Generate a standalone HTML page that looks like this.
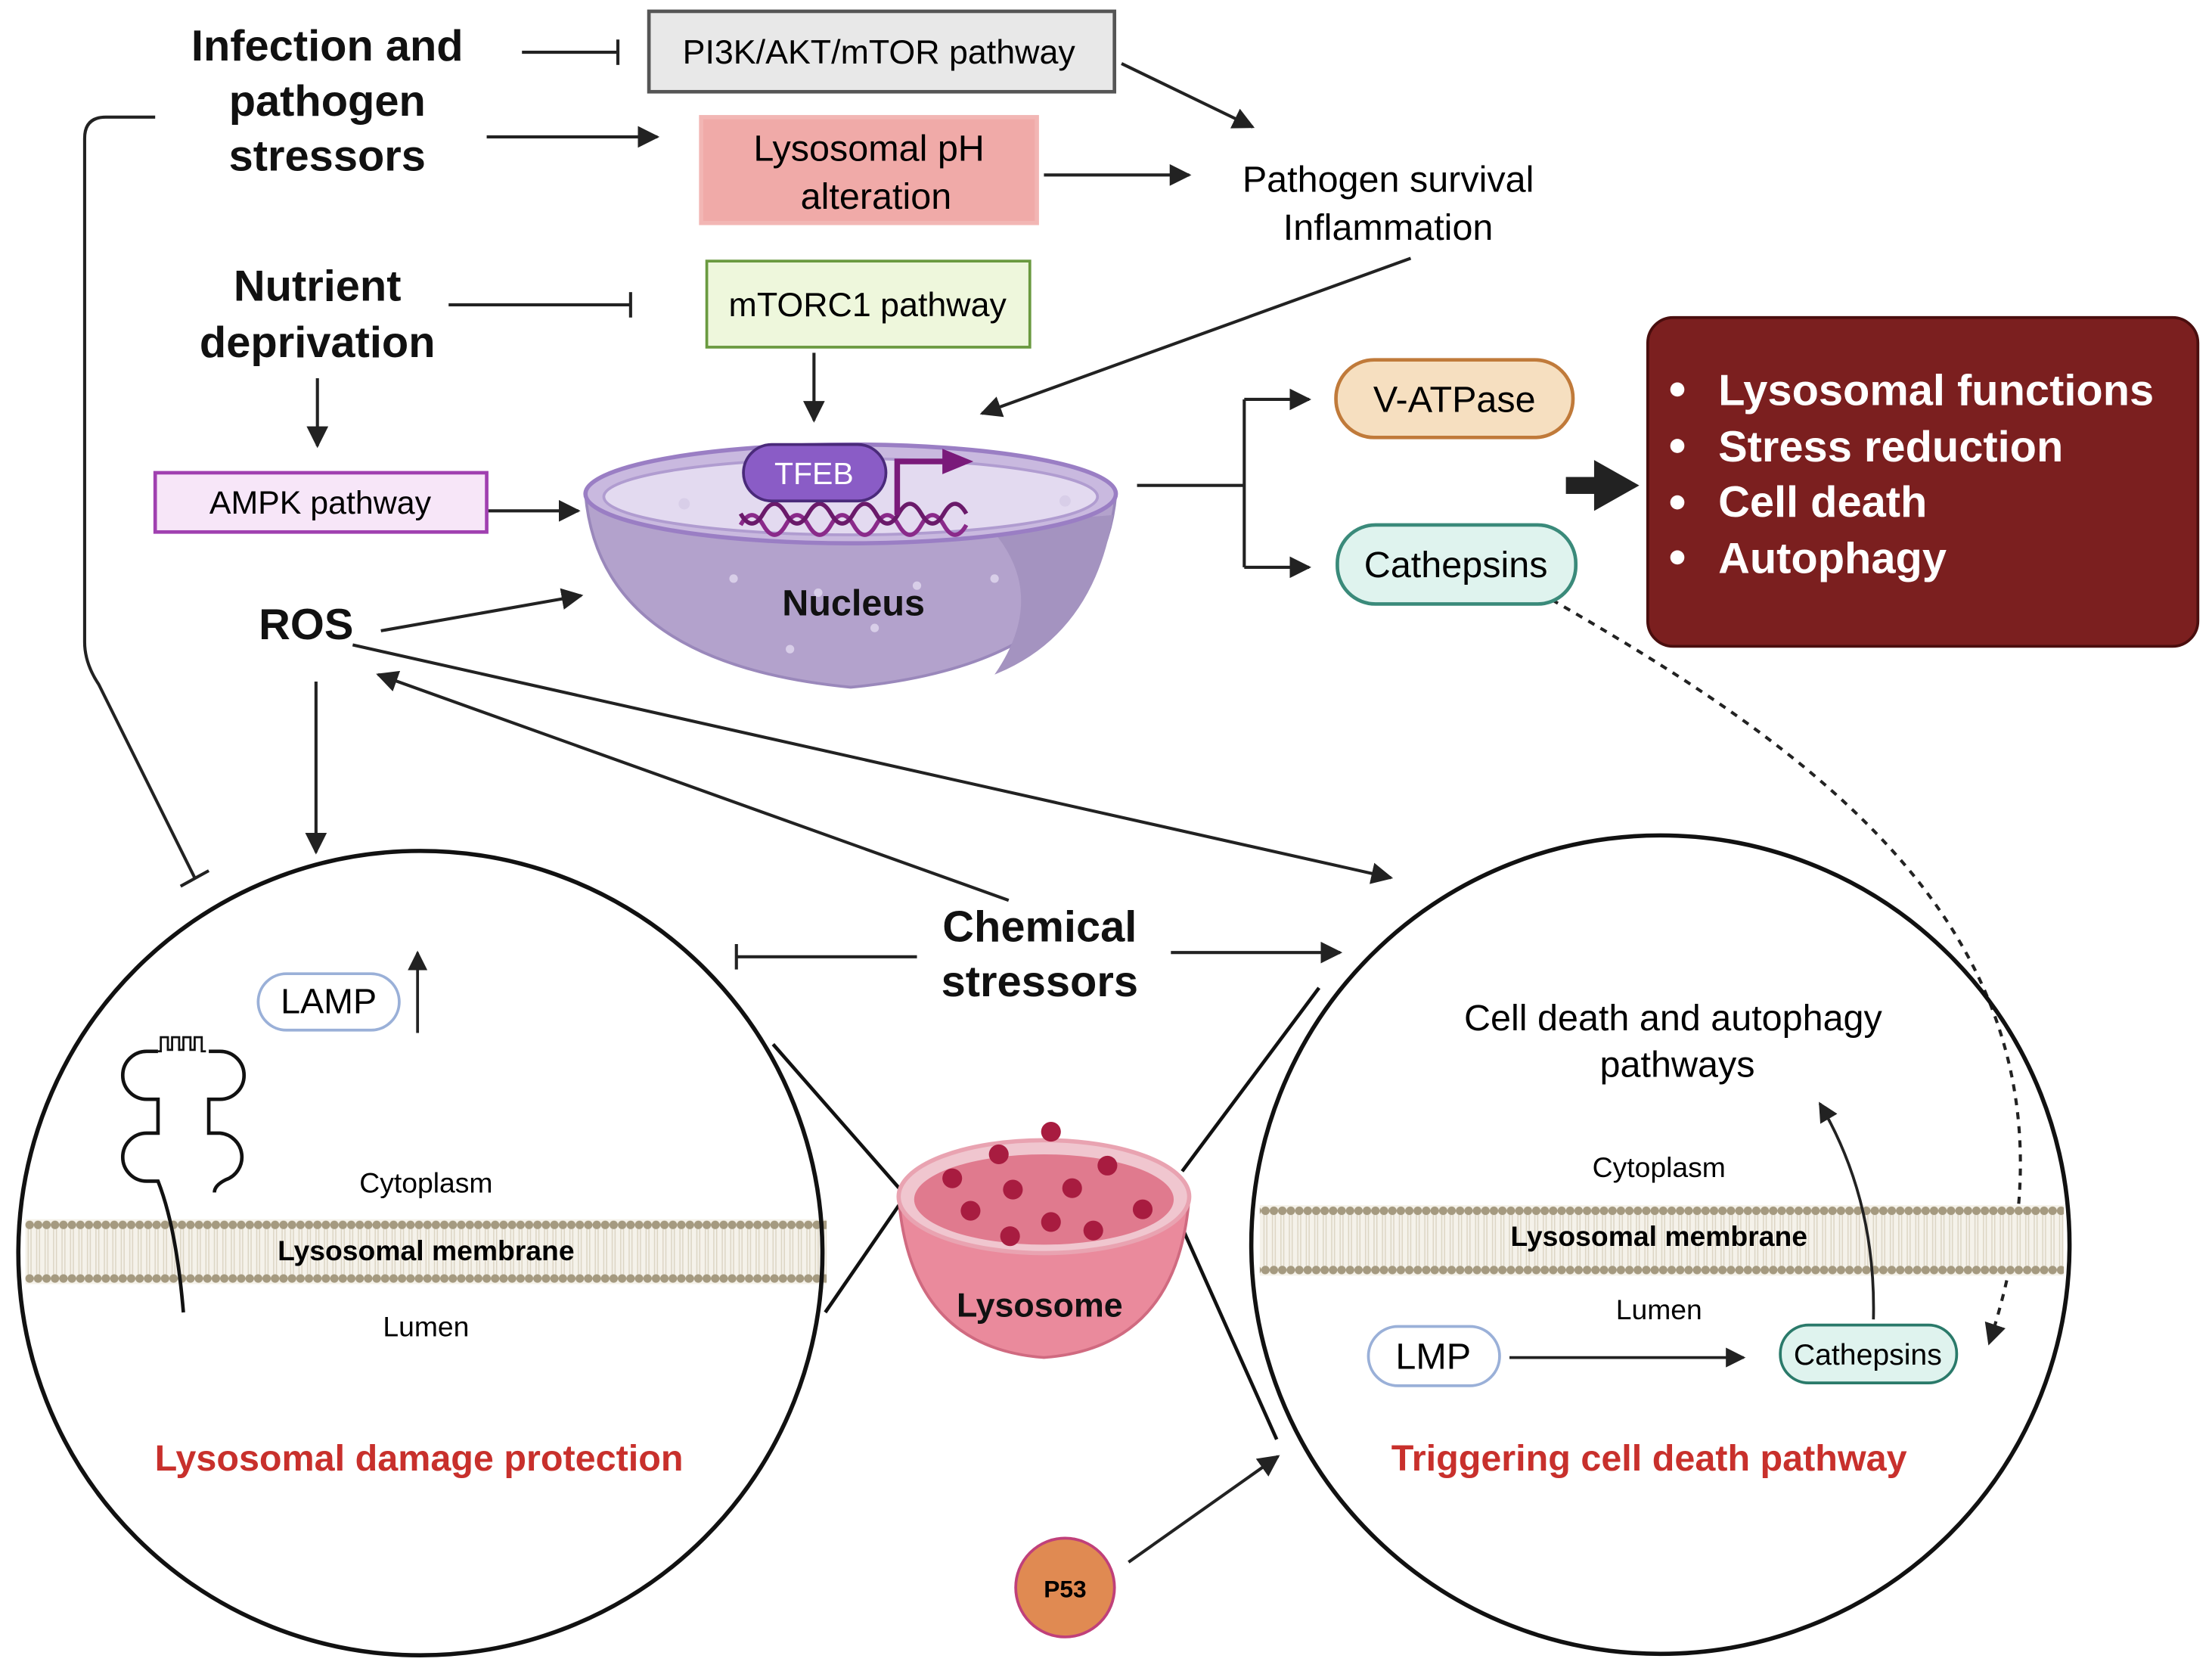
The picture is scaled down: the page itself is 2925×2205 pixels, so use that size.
<!DOCTYPE html>
<html><head><meta charset="utf-8"><style>
html,body{margin:0;padding:0;background:#fff;}
svg{display:block;}
text{font-family:"Liberation Sans",sans-serif;}
</style></head><body>
<svg width="2925" height="2205" viewBox="0 0 1568 1182" xmlns="http://www.w3.org/2000/svg">
<defs>
<marker id="ah" viewBox="0 0 10 10" refX="9" refY="5" markerWidth="7" markerHeight="7" orient="auto-start-reverse"><path d="M0,0 L10,5 L0,10 z" fill="#222"/></marker>
<pattern id="mem1" x="0" y="864" width="6" height="46" patternUnits="userSpaceOnUse">
<rect width="6" height="46" fill="#f5f2ea"/>
<circle cx="3" cy="4" r="3" fill="#a59a80"/><circle cx="3" cy="42" r="3" fill="#a59a80"/>
<line x1="2" y1="7" x2="2" y2="39" stroke="#dcd5c4" stroke-width="0.8"/><line x1="4" y1="7" x2="4" y2="39" stroke="#dcd5c4" stroke-width="0.8"/>
</pattern>
<pattern id="mem2" x="0" y="854" width="6" height="50" patternUnits="userSpaceOnUse">
<rect width="6" height="50" fill="#f5f2ea"/>
<circle cx="3" cy="4" r="3" fill="#a59a80"/><circle cx="3" cy="46" r="3" fill="#a59a80"/>
<line x1="2" y1="7" x2="2" y2="43" stroke="#dcd5c4" stroke-width="0.8"/><line x1="4" y1="7" x2="4" y2="43" stroke="#dcd5c4" stroke-width="0.8"/>
</pattern>
</defs>
<g stroke="#222" stroke-width="2.2" fill="none">
<line x1="370" y1="37" x2="438" y2="37"/><line x1="438" y1="28" x2="438" y2="46"/>
<line x1="795" y1="45" x2="888" y2="90" marker-end="url(#ah)"/>
<line x1="345" y1="97" x2="466" y2="97" marker-end="url(#ah)"/>
<line x1="740" y1="124" x2="843" y2="124" marker-end="url(#ah)"/>
<line x1="318" y1="216" x2="447" y2="216"/><line x1="447" y1="207" x2="447" y2="225"/>
<line x1="577" y1="250" x2="577" y2="298" marker-end="url(#ah)"/>
<line x1="1000" y1="183" x2="696" y2="293" marker-end="url(#ah)"/>
<line x1="225" y1="268" x2="225" y2="316" marker-end="url(#ah)"/>
<line x1="345" y1="362" x2="410" y2="362" marker-end="url(#ah)"/>
<line x1="270" y1="447" x2="412" y2="422" marker-end="url(#ah)"/>
<line x1="806" y1="344" x2="882" y2="344"/>
<path d="M882,283 V402"/>
<line x1="882" y1="283" x2="928" y2="283" marker-end="url(#ah)"/>
<line x1="882" y1="402" x2="928" y2="402" marker-end="url(#ah)"/>
<path d="M110,83 H75 Q60,83 60,98 V455 Q60,470 70,485 L138,622"/>
<line x1="128" y1="628" x2="148" y2="617"/>
<line x1="224" y1="483" x2="224" y2="604" marker-end="url(#ah)"/>
<line x1="250" y1="457" x2="986" y2="622" marker-end="url(#ah)"/>
<line x1="715" y1="638" x2="268" y2="478" marker-end="url(#ah)"/>
<line x1="650" y1="678" x2="522" y2="678"/><line x1="522" y1="669" x2="522" y2="687"/>
<line x1="830" y1="675" x2="950" y2="675" marker-end="url(#ah)"/>
<path d="M1100,425 C1300,540 1500,680 1410,952" stroke-dasharray="5,5" marker-end="url(#ah)"/>
<line x1="800" y1="1107" x2="906" y2="1032" marker-end="url(#ah)"/>
</g>
<rect x="1110" y="338" width="22" height="12" fill="#222"/><path d="M1130,326 L1162,344 L1130,362 z" fill="#222"/>

<rect x="460" y="8" width="330" height="57" fill="#e8e8e8" stroke="#555" stroke-width="2.5"/>
<text x="623" y="45" font-size="24" text-anchor="middle">PI3K/AKT/mTOR pathway</text>
<rect x="497" y="83" width="238" height="75" fill="#f0aaa8" stroke="#f2b6b4" stroke-width="3"/>
<text x="616" y="114" font-size="26" text-anchor="middle">Lysosomal pH</text>
<text x="621" y="148" font-size="26" text-anchor="middle">alteration</text>
<rect x="501" y="185" width="229" height="61" fill="#eef7dc" stroke="#6a9a40" stroke-width="2"/>
<text x="615" y="224" font-size="24" text-anchor="middle">mTORC1 pathway</text>
<rect x="110" y="335" width="235" height="42" fill="#f7e6f8" stroke="#a040b0" stroke-width="2.5"/>
<text x="227" y="364" font-size="23" text-anchor="middle">AMPK pathway</text>
<text x="984" y="136" font-size="26" text-anchor="middle">Pathogen survival</text>
<text x="984" y="170" font-size="26" text-anchor="middle">Inflammation</text>

<g font-weight="bold" font-size="31" text-anchor="middle" fill="#111">
<text x="232" y="43">Infection and</text><text x="232" y="82">pathogen</text><text x="232" y="121">stressors</text>
<text x="225" y="213">Nutrient</text><text x="225" y="253">deprivation</text>
<text x="217" y="453">ROS</text>
<text x="737" y="667">Chemical</text><text x="737" y="706">stressors</text>
</g>

<path d="M415,350 A188,35 0 0 1 791,350 Q780,470 603,487 Q425,470 415,350 z" fill="#b3a2cc" stroke="#9a88bb" stroke-width="2"/>
<path d="M700,372 Q745,420 705,478 Q775,450 789,365 z" fill="#a493c0"/>
<ellipse cx="603" cy="350" rx="188" ry="35" fill="#c9b9df" stroke="#9a7ec4" stroke-width="3"/>
<ellipse cx="603" cy="352" rx="175" ry="27" fill="#e3daf0" stroke="#b09cd0" stroke-width="2"/>
<g fill="#d8cee8"><circle cx="485" cy="357" r="4"/><circle cx="755" cy="355" r="4"/><circle cx="520" cy="410" r="3"/><circle cx="580" cy="420" r="3"/><circle cx="650" cy="415" r="3"/><circle cx="705" cy="410" r="3"/><circle cx="560" cy="460" r="3"/><circle cx="620" cy="445" r="3"/></g>
<path d="M525,372 q8,-14 16,0 t16,0 t16,0 t16,0 t16,0 t16,0 t16,0 t16,0 t16,0 t16,0" fill="none" stroke="#8a2a8a" stroke-width="3"/>
<path d="M525,364 q8,14 16,0 t16,0 t16,0 t16,0 t16,0 t16,0 t16,0 t16,0 t16,0 t16,0" fill="none" stroke="#6a1a6a" stroke-width="3"/>
<rect x="527" y="315" width="101" height="40" rx="20" fill="#8a5cc6" stroke="#4a2a7a" stroke-width="2"/>
<text x="577" y="343" font-size="22" fill="#fff" text-anchor="middle">TFEB</text>
<path d="M636,365 V327 H670" fill="none" stroke="#7a1a7a" stroke-width="4"/><path d="M668,318 L690,327 L668,336 z" fill="#7a1a7a"/>
<text x="605" y="436" font-size="26" font-weight="bold" text-anchor="middle" fill="#111">Nucleus</text>

<rect x="947" y="255" width="168" height="55" rx="27" fill="#f6dfc0" stroke="#c07a3a" stroke-width="2.5"/>
<text x="1031" y="292" font-size="26" text-anchor="middle">V-ATPase</text>
<rect x="948" y="372" width="169" height="56" rx="27" fill="#dff3ee" stroke="#3a8a7a" stroke-width="2.5"/>
<text x="1032" y="409" font-size="26" text-anchor="middle">Cathepsins</text>

<rect x="1168" y="225" width="390" height="233" rx="18" fill="#7b1f1f" stroke="#4a0e0e" stroke-width="2"/>
<g fill="#fff" font-size="31" font-weight="bold">
<circle cx="1189" cy="276" r="5"/><text x="1218" y="287">Lysosomal functions</text>
<circle cx="1189" cy="316" r="5"/><text x="1218" y="327">Stress reduction</text>
<circle cx="1189" cy="356" r="5"/><text x="1218" y="366">Cell death</text>
<circle cx="1189" cy="395" r="5"/><text x="1218" y="406">Autophagy</text>
</g>

<rect x="18" y="864" width="568" height="46" fill="url(#mem1)"/>
<rect x="893" y="854" width="570" height="50" fill="url(#mem2)"/>
<circle cx="298" cy="888" r="285" fill="none" stroke="#111" stroke-width="3"/>
<circle cx="1177" cy="882" r="290" fill="none" stroke="#111" stroke-width="3"/>
<g stroke="#111" stroke-width="2.5"><line x1="548" y1="740" x2="640" y2="845"/><line x1="585" y1="930" x2="640" y2="850"/><line x1="838" y1="830" x2="935" y2="700"/><line x1="838" y1="870" x2="905" y2="1020"/></g>

<path d="M637,848 A104,30 0 0 1 843,848 Q835,955 740,962 Q645,955 637,848 z" fill="#ea8a9c" stroke="#d06a80" stroke-width="2"/>
<ellipse cx="740" cy="848" rx="103" ry="40" fill="#f0c6cf" stroke="#e9a3b1" stroke-width="3"/>
<ellipse cx="740" cy="850" rx="92" ry="32" fill="#e07a8e"/>
<g fill="#a81c40"><circle cx="745" cy="802" r="7"/><circle cx="708" cy="818" r="7"/><circle cx="675" cy="835" r="7"/><circle cx="718" cy="843" r="7"/><circle cx="760" cy="842" r="7"/><circle cx="785" cy="826" r="7"/><circle cx="688" cy="858" r="7"/><circle cx="745" cy="866" r="7"/><circle cx="810" cy="857" r="7"/><circle cx="716" cy="876" r="7"/><circle cx="775" cy="872" r="7"/></g>
<text x="737" y="933" font-size="24" font-weight="bold" text-anchor="middle" fill="#111">Lysosome</text>

<rect x="183" y="690" width="100" height="40" rx="20" fill="#fff" stroke="#9ab0d8" stroke-width="2"/>
<text x="233" y="718" font-size="25" text-anchor="middle">LAMP</text>
<line x1="296" y1="732" x2="296" y2="675" stroke="#222" stroke-width="2" marker-end="url(#ah)"/>
<path d="M112,745 H104 A17,17 0 0 0 104,779 H112 V803 H104 A17,17 0 0 0 104,837 H112 Q125,870 130,930 M148,745 H156 A17,17 0 0 1 156,779 H148 V803 H156 A17,17 0 0 1 160,836 Q152,840 152,845" fill="none" stroke="#111" stroke-width="2.5"/>
<path d="M112,745 H114 V735 h5 v9 h3 v-9 h5 v9 h3 v-9 h5 v9 h3 v-9 h5 v10 h3" fill="none" stroke="#111" stroke-width="1.5"/>
<text x="302" y="845" font-size="20" text-anchor="middle">Cytoplasm</text>
<text x="302" y="893" font-size="20" font-weight="bold" text-anchor="middle">Lysosomal membrane</text>
<text x="302" y="947" font-size="20" text-anchor="middle">Lumen</text>
<text x="297" y="1042" font-size="26" font-weight="bold" fill="#c8302c" text-anchor="middle">Lysosomal damage protection</text>

<text x="1186" y="730" font-size="26" text-anchor="middle">Cell death and autophagy</text>
<text x="1189" y="763" font-size="26" text-anchor="middle">pathways</text>
<path d="M1328,935 Q1330,850 1290,782" fill="none" stroke="#222" stroke-width="2" marker-end="url(#ah)"/>
<text x="1176" y="834" font-size="20" text-anchor="middle">Cytoplasm</text>
<text x="1176" y="883" font-size="20" font-weight="bold" text-anchor="middle">Lysosomal membrane</text>
<text x="1176" y="935" font-size="20" text-anchor="middle">Lumen</text>
<rect x="970" y="940" width="93" height="42" rx="21" fill="#fff" stroke="#9ab0d8" stroke-width="2"/>
<text x="1016" y="970" font-size="26" text-anchor="middle">LMP</text>
<line x1="1070" y1="962" x2="1236" y2="962" stroke="#222" stroke-width="2" marker-end="url(#ah)"/>
<rect x="1262" y="939" width="125" height="41" rx="20" fill="#dff3ee" stroke="#2a7a6a" stroke-width="2"/>
<text x="1324" y="967" font-size="21" text-anchor="middle">Cathepsins</text>
<text x="1169" y="1042" font-size="26" font-weight="bold" fill="#c8302c" text-anchor="middle">Triggering cell death pathway</text>

<circle cx="755" cy="1125" r="35" fill="#e08a52" stroke="#c0407a" stroke-width="2"/>
<text x="755" y="1132" font-size="17" font-weight="bold" text-anchor="middle">P53</text>
</svg>
</body></html>
